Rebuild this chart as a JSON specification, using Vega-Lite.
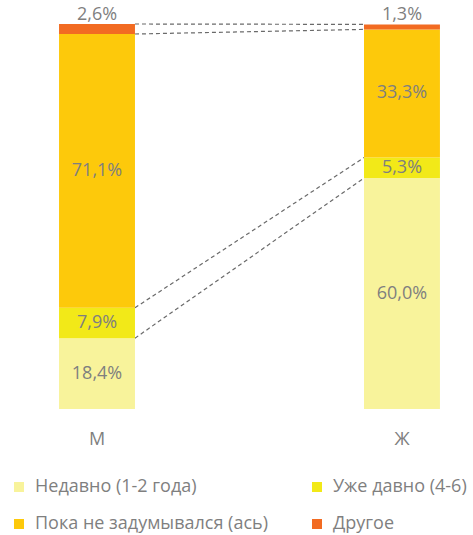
{
  "$schema": "https://vega.github.io/schema/vega-lite/v6.json",
  "width": 473,
  "height": 385,
  "autosize": {"type": "none"},
  "padding": {"top": 24, "left": 0, "right": 0, "bottom": 126},
  "background": "white",
  "config": {
    "view": {"stroke": null},
    "font": "Open Sans"
  },
  "datasets": {
    "bars": [
      {"sex": "М", "cat": "Недавно (1-2 года)", "k": 1, "v": 18.4},
      {"sex": "М", "cat": "Уже давно (4-6)", "k": 2, "v": 7.9},
      {"sex": "М", "cat": "Пока не задумывался (ась)", "k": 3, "v": 71.1},
      {"sex": "М", "cat": "Другое", "k": 4, "v": 2.6},
      {"sex": "Ж", "cat": "Недавно (1-2 года)", "k": 1, "v": 60.0},
      {"sex": "Ж", "cat": "Уже давно (4-6)", "k": 2, "v": 5.3},
      {"sex": "Ж", "cat": "Пока не задумывался (ась)", "k": 3, "v": 33.3},
      {"sex": "Ж", "cat": "Другое", "k": 4, "v": 1.3}
    ],
    "links": [
      {"from": "М", "to": "Ж", "yFrom": 18.4, "yTo": 60.0},
      {"from": "М", "to": "Ж", "yFrom": 26.3, "yTo": 65.3},
      {"from": "М", "to": "Ж", "yFrom": 97.4, "yTo": 98.6},
      {"from": "М", "to": "Ж", "yFrom": 100.0, "yTo": 99.9}
    ]
  },
  "layer": [
    {
      "data": {"name": "links"},
      "mark": {"type": "rule", "stroke": "#6A6A6A", "strokeWidth": 1.2, "strokeDash": [4, 3]},
      "encoding": {
        "x": {"field": "from", "type": "nominal", "bandPosition": 1, "title": null,
              "scale": {"domain": ["М", "Ж"], "paddingInner": 0.751, "paddingOuter": 0.151, "align": 0.641},
              "axis": {"title": null, "domain": false, "ticks": false, "labelAngle": 0,
                       "labelFontSize": 18, "labelColor": "#7F7F7F", "labelPadding": 21,
                       "labelFont": "Open Sans", "grid": false}},
        "x2": {"field": "to", "bandPosition": 0},
        "y": {"field": "yFrom", "type": "quantitative", "scale": {"domain": [0, 100], "nice": false}, "axis": null},
        "y2": {"field": "yTo"}
      }
    },
    {
      "data": {"name": "bars"},
      "transform": [
        {"stack": "v", "groupby": ["sex"], "sort": [{"field": "k", "order": "ascending"}], "as": ["y0", "y1"]}
      ],
      "mark": {"type": "bar"},
      "encoding": {
        "x": {"field": "sex", "type": "nominal", "title": null},
        "y": {"field": "y0", "type": "quantitative", "title": null},
        "y2": {"field": "y1"},
        "color": {
          "field": "cat", "type": "nominal",
          "scale": {
            "domain": ["Недавно (1-2 года)", "Уже давно (4-6)", "Пока не задумывался (ась)", "Другое"],
            "range": ["#F8F39B", "#F2E918", "#FDC90B", "#F26B22"]
          },
          "legend": {
            "title": null, "orient": "none", "legendX": 10, "legendY": 454,
            "direction": "horizontal", "columns": 2, "columnPadding": 40, "rowPadding": 19,
            "symbolType": "square", "symbolSize": 100, "symbolStrokeWidth": 0, "symbolOffset": 0,
            "labelFontSize": 18, "labelColor": "#7F7F7F", "labelFont": "Open Sans", "labelOffset": 7,
            "labelLimit": 400, "padding": 0
          }
        }
      }
    },
    {
      "data": {"name": "bars"},
      "transform": [
        {"stack": "v", "groupby": ["sex"], "sort": [{"field": "k", "order": "ascending"}], "as": ["y0", "y1"]},
        {"calculate": "(datum.y0 + datum.y1) / 2", "as": "ym"},
        {"calculate": "replace(format(datum.v, '.1f'), '.', ',') + '%'", "as": "lbl"},
        {"filter": "datum.k < 4"}
      ],
      "mark": {"type": "text", "fontSize": 18, "color": "#7F7F7F", "font": "Open Sans", "baseline": "middle"},
      "encoding": {
        "x": {"field": "sex", "type": "nominal", "title": null},
        "y": {"field": "ym", "type": "quantitative", "title": null},
        "text": {"field": "lbl"}
      }
    },
    {
      "data": {"name": "bars"},
      "transform": [
        {"stack": "v", "groupby": ["sex"], "sort": [{"field": "k", "order": "ascending"}], "as": ["y0", "y1"]},
        {"calculate": "replace(format(datum.v, '.1f'), '.', ',') + '%'", "as": "lbl"},
        {"filter": "datum.k == 4"}
      ],
      "mark": {"type": "text", "fontSize": 18, "color": "#7F7F7F", "font": "Open Sans", "baseline": "middle", "dy": -9},
      "encoding": {
        "x": {"field": "sex", "type": "nominal", "title": null},
        "y": {"field": "y1", "type": "quantitative", "title": null},
        "text": {"field": "lbl"}
      }
    }
  ]
}
